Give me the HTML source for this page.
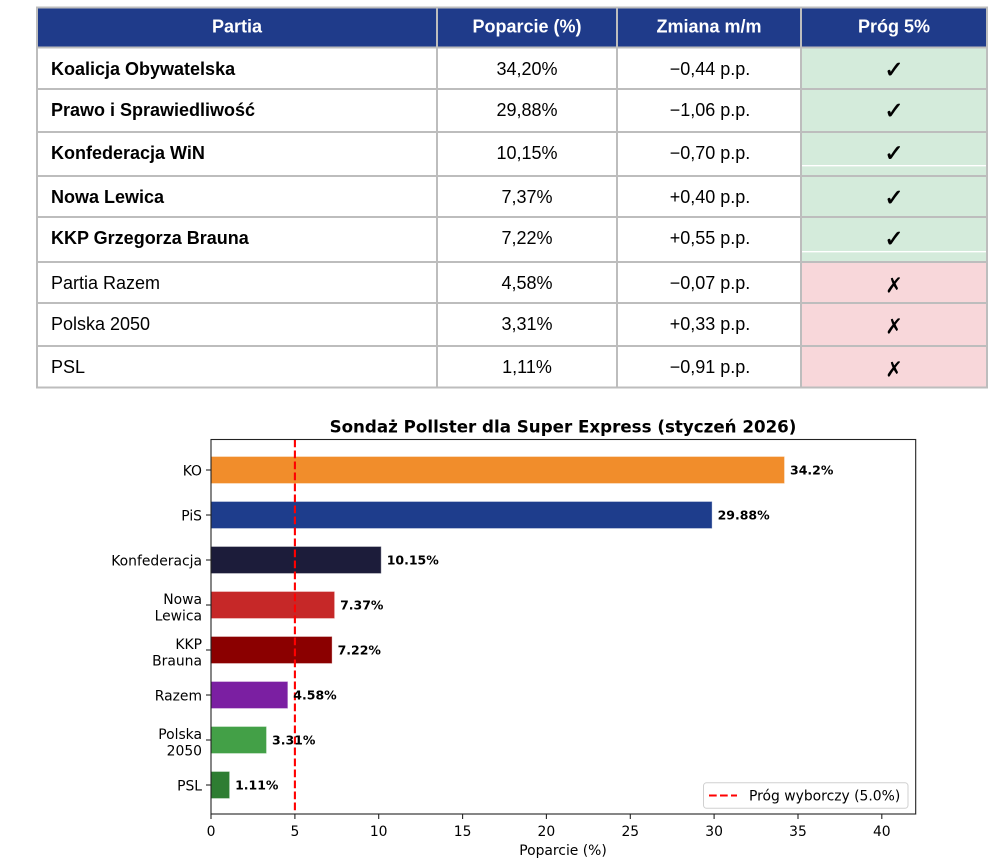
<!DOCTYPE html>
<html><head><meta charset="utf-8">
<style>
html,body{margin:0;padding:0;background:#fff;}
svg{display:block;}
.tb{font-family:"Liberation Sans",Arial,sans-serif;font-size:18px;fill:#000;}
.th{font-family:"Liberation Sans",Arial,sans-serif;font-size:18px;font-weight:bold;fill:#fff;}
.c{font-family:"DejaVu Sans",sans-serif;}
</style></head>
<body>
<svg width="1001" height="859" viewBox="0 0 1001 859" xmlns="http://www.w3.org/2000/svg">
<!-- TABLE -->
<rect x="37" y="7.5" width="950" height="40" fill="#1f3b8a"/>
<rect x="801" y="48" width="186" height="214" fill="#d4ebdb"/>
<rect x="801" y="262" width="186" height="125.5" fill="#f8d7da"/>
<line x1="802" y1="165.7" x2="986" y2="165.7" stroke="#fff" stroke-width="1.3"/>
<line x1="802" y1="251.7" x2="986" y2="251.7" stroke="#fff" stroke-width="1.3"/>
<g stroke="#bdbdbd" stroke-width="2" fill="none">
<rect x="37" y="7.5" width="950" height="380"/>
<line x1="37" y1="47.5" x2="987" y2="47.5"/>
<line x1="37" y1="89" x2="987" y2="89"/>
<line x1="37" y1="132" x2="987" y2="132"/>
<line x1="37" y1="176" x2="987" y2="176"/>
<line x1="37" y1="217" x2="987" y2="217"/>
<line x1="37" y1="262" x2="987" y2="262"/>
<line x1="37" y1="303" x2="987" y2="303"/>
<line x1="37" y1="346" x2="987" y2="346"/>
<line x1="437" y1="7.5" x2="437" y2="387.5"/>
<line x1="617" y1="7.5" x2="617" y2="387.5"/>
<line x1="801" y1="7.5" x2="801" y2="387.5"/>
</g>
<text class="th" x="237" y="32.5" text-anchor="middle">Partia</text>
<text class="th" x="527" y="32.5" text-anchor="middle">Poparcie (%)</text>
<text class="th" x="709" y="32.5" text-anchor="middle">Zmiana m/m</text>
<text class="th" x="894" y="32.5" text-anchor="middle">Próg 5%</text>

<g class="tb">
<text x="51" y="75" font-weight="bold">Koalicja Obywatelska</text>
<text x="51" y="116" font-weight="bold">Prawo i Sprawiedliwość</text>
<text x="51" y="159" font-weight="bold">Konfederacja WiN</text>
<text x="51" y="203" font-weight="bold">Nowa Lewica</text>
<text x="51" y="244" font-weight="bold">KKP Grzegorza Brauna</text>
<text x="51" y="289">Partia Razem</text>
<text x="51" y="330">Polska 2050</text>
<text x="51" y="373">PSL</text>
</g>
<g class="tb" text-anchor="middle">
<text x="527" y="75">34,20%</text>
<text x="527" y="116">29,88%</text>
<text x="527" y="159">10,15%</text>
<text x="527" y="203">7,37%</text>
<text x="527" y="244">7,22%</text>
<text x="527" y="289">4,58%</text>
<text x="527" y="330">3,31%</text>
<text x="527" y="373">1,11%</text>
<text x="710" y="75">−0,44 p.p.</text>
<text x="710" y="116">−1,06 p.p.</text>
<text x="710" y="159">−0,70 p.p.</text>
<text x="710" y="203">+0,40 p.p.</text>
<text x="710" y="244">+0,55 p.p.</text>
<text x="710" y="289">−0,07 p.p.</text>
<text x="710" y="330">+0,33 p.p.</text>
<text x="710" y="373">−0,91 p.p.</text>
</g>
<g font-family="'DejaVu Sans',sans-serif" font-size="23" font-weight="bold" text-anchor="middle" fill="#000" stroke="#000" stroke-width="0.6">
<text x="894" y="77.5">✓</text>
<text x="894" y="118.5">✓</text>
<text x="894" y="161">✓</text>
<text x="894" y="205.5">✓</text>
<text x="894" y="246.5">✓</text>
</g>
<g font-family="'DejaVu Sans',sans-serif" font-size="21" text-anchor="middle" fill="#000">
<text x="894" y="292.5">✗</text>
<text x="894" y="333.5">✗</text>
<text x="894" y="376.5">✗</text>
</g>

<!-- CHART -->
<text class="c" x="563" y="432.3" font-size="16.7" font-weight="bold" text-anchor="middle" fill="#000">Sondaż Pollster dla Super Express (styczeń 2026)</text>

<g stroke="#ffffff" stroke-opacity="0.35" stroke-width="1">
<rect x="211" y="456.5" width="573.5" height="27" fill="#f18d2b"/>
<rect x="211" y="501.5" width="501.1" height="27" fill="#1e3d8c"/>
<rect x="211" y="546.5" width="170.2" height="27" fill="#1c1c3a"/>
<rect x="211" y="591.5" width="123.6" height="27" fill="#c62828"/>
<rect x="211" y="636.5" width="121.1" height="27" fill="#8b0000"/>
<rect x="211" y="681.5" width="76.8" height="27" fill="#7b1fa2"/>
<rect x="211" y="726.5" width="55.5" height="27" fill="#43a047"/>
<rect x="211" y="771.5" width="18.6" height="27" fill="#2e7d32"/>
</g>

<line x1="294.9" y1="439.5" x2="294.9" y2="814" stroke="#ff0000" stroke-width="2.1" stroke-dasharray="7.7 3.3"/>

<g class="c" font-size="12.5" font-weight="bold" fill="#000">
<text x="790" y="474.5">34.2%</text>
<text x="717.6" y="519.5">29.88%</text>
<text x="386.7" y="564.5">10.15%</text>
<text x="340.1" y="609.5">7.37%</text>
<text x="337.6" y="654.5">7.22%</text>
<text x="293.3" y="699.5">4.58%</text>
<text x="272" y="744.5">3.31%</text>
<text x="235.1" y="789.5">1.11%</text>
</g>

<rect x="211" y="439.5" width="704.7" height="374.5" fill="none" stroke="#222" stroke-width="1.1"/>

<g stroke="#222" stroke-width="1.1">
<line x1="206" y1="470" x2="211" y2="470"/>
<line x1="206" y1="515" x2="211" y2="515"/>
<line x1="206" y1="560" x2="211" y2="560"/>
<line x1="206" y1="605" x2="211" y2="605"/>
<line x1="206" y1="650" x2="211" y2="650"/>
<line x1="206" y1="695" x2="211" y2="695"/>
<line x1="206" y1="740" x2="211" y2="740"/>
<line x1="206" y1="785" x2="211" y2="785"/>
</g>
<g class="c" font-size="13.9" fill="#000" text-anchor="end">
<text x="202" y="475.5">KO</text>
<text x="202" y="520.5">PiS</text>
<text x="202" y="565.5">Konfederacja</text>
<text x="202" y="604">Nowa</text>
<text x="202" y="620.5">Lewica</text>
<text x="202" y="649">KKP</text>
<text x="202" y="665.5">Brauna</text>
<text x="202" y="700.5">Razem</text>
<text x="202" y="739">Polska</text>
<text x="202" y="755.5">2050</text>
<text x="202" y="790.5">PSL</text>
</g>

<g stroke="#222" stroke-width="1.1">
<line x1="211" y1="814" x2="211" y2="819"/>
<line x1="294.9" y1="814" x2="294.9" y2="819"/>
<line x1="378.7" y1="814" x2="378.7" y2="819"/>
<line x1="462.6" y1="814" x2="462.6" y2="819"/>
<line x1="546.4" y1="814" x2="546.4" y2="819"/>
<line x1="630.3" y1="814" x2="630.3" y2="819"/>
<line x1="714.1" y1="814" x2="714.1" y2="819"/>
<line x1="798" y1="814" x2="798" y2="819"/>
<line x1="881.8" y1="814" x2="881.8" y2="819"/>
</g>
<g class="c" font-size="13.9" fill="#000" text-anchor="middle">
<text x="211" y="836">0</text>
<text x="294.9" y="836">5</text>
<text x="378.7" y="836">10</text>
<text x="462.6" y="836">15</text>
<text x="546.4" y="836">20</text>
<text x="630.3" y="836">25</text>
<text x="714.1" y="836">30</text>
<text x="798" y="836">35</text>
<text x="881.8" y="836">40</text>
<text x="563" y="855">Poparcie (%)</text>
</g>

<rect x="703.5" y="782.8" width="204.5" height="25.5" rx="3" ry="3" fill="#fff" fill-opacity="0.8" stroke="#d0d0d0" stroke-width="1"/>
<line x1="709" y1="795.5" x2="737" y2="795.5" stroke="#ff0000" stroke-width="2.1" stroke-dasharray="7.7 3.3"/>
<text class="c" x="749" y="800.3" font-size="13.9" fill="#000">Próg wyborczy (5.0%)</text>
</svg>
</body></html>
